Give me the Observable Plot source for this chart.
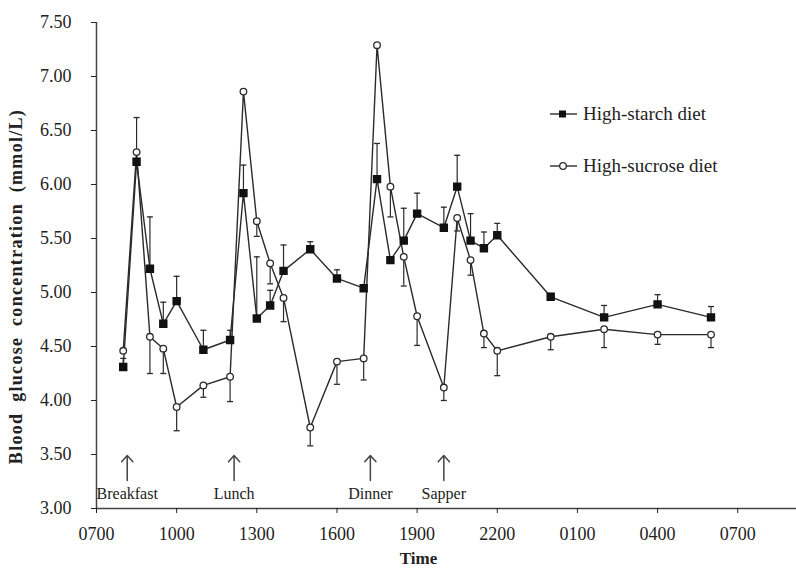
<!DOCTYPE html>
<html>
<head>
<meta charset="utf-8">
<script src="https://cdn.jsdelivr.net/npm/d3@7"></script>
<script src="https://cdn.jsdelivr.net/npm/@observablehq/plot@0.6"></script>
<style>
  body { margin: 0; background: white; }
  #wrap { position: relative; width: 796px; height: 574px; background: white; font-family: "Liberation Serif", serif; color: #222; }
  #legend { position: absolute; left: 548px; top: 88px; font-size: 19px; }
  #legend div { display: flex; align-items: center; height: 52px; }
  #legend svg { margin-right: 5px; }
</style>
</head>
<body>
<div id="wrap"><div id="legend"></div></div>
<script>
// Sampling times (clock hours, 24+ = next day)
const times = [8, 8.5, 9, 9.5, 10, 11, 12, 12.5, 13, 13.5, 14, 15, 16, 17, 17.5, 18, 18.5, 19, 20, 20.5, 21, 21.5, 22, 24, 26, 28, 30];
// High-starch diet: means and error-bar ends
const starch = [4.31, 6.21, 5.22, 4.71, 4.92, 4.47, 4.56, 5.92, 4.76, 4.88, 5.20, 5.40, 5.13, 5.04, 6.05, 5.30, 5.48, 5.73, 5.60, 5.98, 5.48, 5.41, 5.53, 4.96, 4.77, 4.89, 4.77];
const starchErr = [4.39, null, 5.70, 4.91, 5.15, 4.65, 4.65, 6.18, 5.33, 5.02, 5.44, 5.47, 5.21, null, 6.38, null, 5.78, 5.92, 5.79, 6.27, 5.73, 5.56, 5.64, 4.99, 4.88, 4.98, 4.87];
// High-sucrose diet: means and error-bar ends
const sucrose = [4.46, 6.30, 4.59, 4.48, 3.94, 4.14, 4.22, 6.86, 5.66, 5.27, 4.95, 3.75, 4.36, 4.39, 7.29, 5.98, 5.33, 4.78, 4.12, 5.69, 5.30, 4.62, 4.46, 4.59, 4.66, 4.61, 4.61];
const sucroseErr = [null, 6.62, 4.25, 4.25, 3.72, 4.03, 3.99, null, 5.52, 5.08, 4.73, 3.58, 4.15, 4.19, null, 5.70, 5.06, 4.51, 4.00, 5.57, 5.16, 4.49, 4.23, 4.47, 4.49, 4.52, 4.49];
// Meals
const mealTimes = [8.15, 12.15, 17.25, 20.0];
const mealLabels = ["Breakfast", "Lunch", "Dinner", "Sapper"];
// Axis ticks
const xTicks = [7, 10, 13, 16, 19, 22, 25, 28, 31];
const xTickLabels = ["0700", "1000", "1300", "1600", "1900", "2200", "0100", "0400", "0700"];
const yTicks = [3.0, 3.5, 4.0, 4.5, 5.0, 5.5, 6.0, 6.5, 7.0, 7.5];
const seriesNames = ["High-starch diet", "High-sucrose diet"];
const xTitle = "Time";
const yTitle = "Blood glucose concentration (mmol/L)";

const starchData = times.map((t, i) => ({t, v: starch[i], e: starchErr[i]}));
const sucroseData = times.map((t, i) => ({t, v: sucrose[i], e: sucroseErr[i]}));
const starchBars = starchData.filter(d => d.e != null);
const sucroseBars = sucroseData.filter(d => d.e != null);
const meals = mealTimes.map((t, i) => ({t, label: mealLabels[i]}));

const cap = {draw(ctx) { ctx.moveTo(-3, 0); ctx.lineTo(3, 0); }};
const ink = "#2b2b2b";

const chart = Plot.plot({
  width: 796,
  height: 574,
  marginLeft: 96,
  marginRight: 0,
  marginTop: 22,
  marginBottom: 66,
  style: {fontFamily: "Liberation Serif, serif", fontSize: "18px", color: "#222", background: "white"},
  x: {domain: [7, 33.2]},
  y: {domain: [3, 7.5]},
  marks: [
    Plot.ruleX([7], {stroke: "#444", strokeWidth: 1.5}),
    Plot.ruleY([3], {stroke: "#444", strokeWidth: 1.5}),
    Plot.axisY({ticks: yTicks, tickFormat: d3.format(".2f"), tickSize: 5, tickPadding: 20, label: null, fontSize: 18}),
    Plot.axisX({ticks: xTicks, tickFormat: (d) => xTickLabels[xTicks.indexOf(d)], tickSize: 5, tickPadding: 14, label: null, fontSize: 18}),
    // error bars
    Plot.ruleX(starchBars, {x: "t", y1: "v", y2: "e", stroke: ink, strokeWidth: 1.2}),
    Plot.dot(starchBars, {x: "t", y: "e", symbol: cap, fill: "none", stroke: ink, strokeWidth: 1.3}),
    Plot.ruleX(sucroseBars, {x: "t", y1: "v", y2: "e", stroke: ink, strokeWidth: 1.2}),
    Plot.dot(sucroseBars, {x: "t", y: "e", symbol: cap, fill: "none", stroke: ink, strokeWidth: 1.3}),
    // lines
    Plot.line(starchData, {x: "t", y: "v", stroke: ink, strokeWidth: 1.4}),
    Plot.line(sucroseData, {x: "t", y: "v", stroke: ink, strokeWidth: 1.4}),
    // markers
    Plot.dot(starchData, {x: "t", y: "v", symbol: "square", r: 3.9, fill: "#111", stroke: "#111"}),
    Plot.dot(sucroseData, {x: "t", y: "v", symbol: "circle", r: 3.3, fill: "white", stroke: ink, strokeWidth: 1.3}),
    // meal arrows
    Plot.arrow(meals, {x1: "t", x2: "t", y1: 3.26, y2: 3.49, stroke: "#444", strokeWidth: 1.5, headLength: 11, headAngle: 85}),
    Plot.text(meals, {x: "t", y: 3.14, text: "label", fontSize: 16, fill: "#222"}),
    // axis titles
    Plot.text([xTitle], {frameAnchor: "bottom", dx: -28, dy: 55, fontWeight: "bold", fontSize: 17, fill: "#222"}),
    Plot.text([yTitle], {frameAnchor: "left", textAnchor: "middle", rotate: -90, dx: -80, dy: 21, fontWeight: "bold", fontSize: 18, fill: "#222"})
  ]
});

d3.select(chart).selectAll("text").filter(function() { return this.textContent === yTitle; })
  .attr("letter-spacing", "1.3px").attr("word-spacing", "5px");

const wrap = document.getElementById("wrap");
wrap.insertBefore(chart, wrap.firstChild);

// Legend
const legend = d3.select("#legend");
seriesNames.forEach((name, i) => {
  const row = legend.append("div");
  const s = row.append("svg").attr("width", 30).attr("height", 14);
  s.append("line").attr("x1", 2).attr("x2", 29).attr("y1", 7).attr("y2", 7).attr("stroke", ink).attr("stroke-width", 1.4);
  if (i === 0) {
    s.append("rect").attr("x", 11).attr("y", 3.5).attr("width", 7).attr("height", 7).attr("fill", "#111");
  } else {
    s.append("circle").attr("cx", 15).attr("cy", 7).attr("r", 3.3).attr("fill", "white").attr("stroke", ink).attr("stroke-width", 1.3);
  }
  row.append("span").text(name);
});
</script>
</body>
</html>
